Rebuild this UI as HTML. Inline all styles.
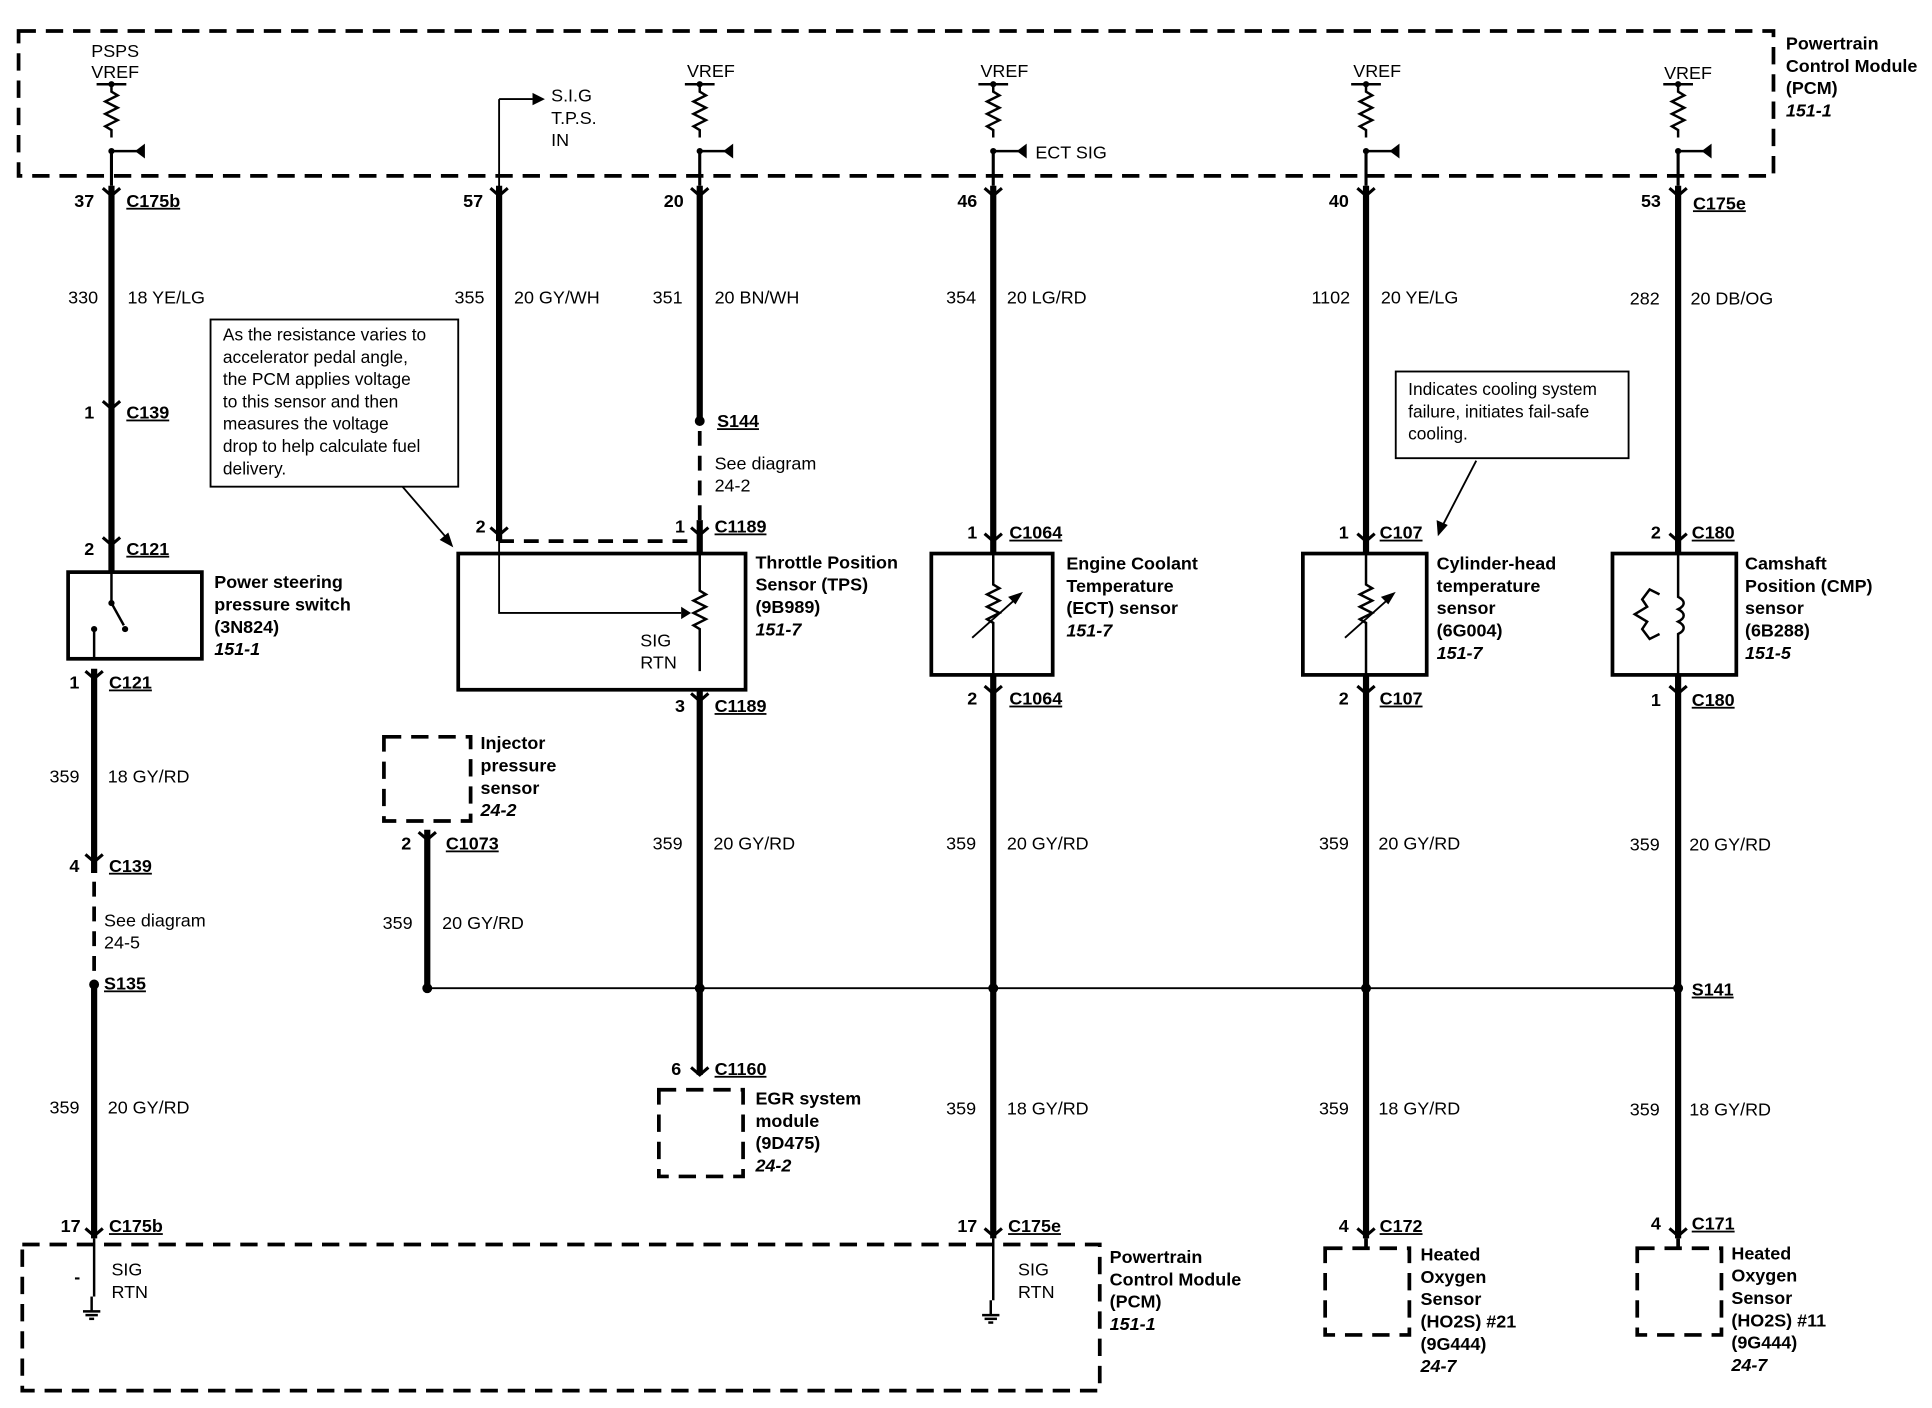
<!DOCTYPE html>
<html><head><meta charset="utf-8"><style>
html,body{margin:0;padding:0;background:#fff;}
svg{display:block;}
text{font-family:"Liberation Sans",Arial,sans-serif;font-size:14.5px;fill:#000;}
.b{font-weight:bold;}
.i{font-weight:bold;font-style:italic;}
.u{font-weight:bold;text-decoration:underline;}
</style></head><body>
<svg width="1932" height="1408" viewBox="0 0 1560 1137" preserveAspectRatio="none" xmlns="http://www.w3.org/2000/svg">
<defs>
<g id="res"><path d="M0,68 v6 l5,3 l-10,5 l10,5 l-10,5 l10,5 l-10,5 l5,3 v6" fill="none" stroke="#000" stroke-width="2"/><line x1="-12" y1="68" x2="12" y2="68" stroke="#000" stroke-width="2"/><circle cx="0" cy="68" r="2.5"/><line x1="0" y1="122" x2="22" y2="122" stroke="#000" stroke-width="2"/><path d="M27,116 L19,122 L27,128 Z"/><circle cx="0" cy="122" r="2.5"/><line x1="0" y1="122" x2="0" y2="150" stroke="#000" stroke-width="2.5"/></g>
<path id="chev" d="M-7,-6 L0,0 L7,-6" fill="none" stroke="#000" stroke-width="2.5"/>
<g id="gnd"><line x1="0" y1="0" x2="0" y2="12" stroke="#000" stroke-width="2"/><line x1="-7" y1="12" x2="7" y2="12" stroke="#000" stroke-width="2"/><line x1="-5" y1="15" x2="5" y2="15" stroke="#000" stroke-width="2"/><line x1="-2" y1="18" x2="2" y2="18" stroke="#000" stroke-width="2"/></g>
</defs>
<rect width="1560" height="1137" fill="#fff"/>
<g fill="none" stroke="#000" stroke-width="3" stroke-dasharray="14,8">
<rect x="15" y="25" width="1417" height="117"/>
<rect x="18" y="1005" width="870" height="118"/>
<rect x="310" y="595" width="70" height="68"/>
<rect x="532" y="880" width="68" height="70"/>
<rect x="1070" y="1008" width="68" height="70"/>
<rect x="1322" y="1008" width="68" height="70"/>
</g>
<text x="1442" y="40" class="b">Powertrain</text><text x="1442" y="58" class="b">Control Module</text><text x="1442" y="76" class="b">(PCM)</text><text x="1442" y="94" class="i">151-1</text>
<!-- resistors -->
<use href="#res" x="90"/><use href="#res" x="565"/><use href="#res" x="802"/><use href="#res" x="1103"/><use href="#res" x="1355"/>
<text x="93" y="46" text-anchor="middle">PSPS</text><text x="93" y="63" text-anchor="middle">VREF</text>
<text x="574" y="62" text-anchor="middle">VREF</text><text x="811" y="62" text-anchor="middle">VREF</text><text x="1112" y="62" text-anchor="middle">VREF</text><text x="1363" y="64" text-anchor="middle">VREF</text>
<text x="836" y="128">ECT SIG</text>
<!-- thick wires -->
<g stroke="#000" stroke-width="5">
<line x1="90" y1="150" x2="90" y2="462"/><line x1="76" y1="540" x2="76" y2="705"/><line x1="76" y1="795" x2="76" y2="1000"/>
<line x1="403" y1="150" x2="403" y2="437"/>
<line x1="565" y1="150" x2="565" y2="340"/><line x1="565" y1="420" x2="565" y2="447"/><line x1="565" y1="557" x2="565" y2="868"/>
<line x1="345" y1="670" x2="345" y2="798"/>
<line x1="802" y1="150" x2="802" y2="447"/><line x1="802" y1="545" x2="802" y2="1000"/>
<line x1="1103" y1="150" x2="1103" y2="447"/><line x1="1103" y1="545" x2="1103" y2="1000"/>
<line x1="1355" y1="150" x2="1355" y2="447"/><line x1="1355" y1="545" x2="1355" y2="1000"/>
</g>
<g stroke="#000" stroke-width="3" stroke-dasharray="12,8">
<line x1="76" y1="712" x2="76" y2="790"/><line x1="565" y1="348" x2="565" y2="420"/><line x1="403" y1="437" x2="565" y2="437"/>
</g>
<line x1="345" y1="798" x2="1355" y2="798" stroke="#000" stroke-width="1.5"/>
<g><circle cx="76" cy="795" r="4"/><circle cx="565" cy="340" r="4"/><circle cx="345" cy="798" r="4"/><circle cx="565" cy="798" r="4"/><circle cx="802" cy="798" r="4"/><circle cx="1103" cy="798" r="4"/><circle cx="1355" cy="798" r="4"/></g>
<!-- chevrons -->
<g>
<use href="#chev" x="90" y="158"/><use href="#chev" x="403" y="158"/><use href="#chev" x="565" y="158"/><use href="#chev" x="802" y="158"/><use href="#chev" x="1103" y="158"/><use href="#chev" x="1355" y="158"/>
<use href="#chev" x="90" y="330"/><use href="#chev" x="90" y="440"/><use href="#chev" x="76" y="548"/><use href="#chev" x="76" y="696"/>
<use href="#chev" x="403" y="432"/><use href="#chev" x="565" y="432"/><use href="#chev" x="565" y="566"/><use href="#chev" x="565" y="868"/><use href="#chev" x="345" y="678"/>
<use href="#chev" x="802" y="437"/><use href="#chev" x="802" y="560"/><use href="#chev" x="1103" y="437"/><use href="#chev" x="1103" y="560"/><use href="#chev" x="1355" y="437"/><use href="#chev" x="1355" y="560"/>
<use href="#chev" x="76" y="998"/><use href="#chev" x="802" y="998"/><use href="#chev" x="1103" y="998"/><use href="#chev" x="1355" y="998"/>
</g>
<!-- pin labels -->
<g class="b">
<text x="60" y="167" class="b">37</text><text x="102" y="167" class="u">C175b</text>
<text x="374" y="167" class="b">57</text><text x="536" y="167" class="b">20</text>
<text x="773" y="167" class="b">46</text><text x="1073" y="167" class="b">40</text><text x="1325" y="167" class="b">53</text><text x="1367" y="169" class="u">C175e</text>
<text x="68" y="338" class="b">1</text><text x="102" y="338" class="u">C139</text>
<text x="68" y="448" class="b">2</text><text x="102" y="448" class="u">C121</text>
<text x="56" y="556" class="b">1</text><text x="88" y="556" class="u">C121</text>
<text x="56" y="704" class="b">4</text><text x="88" y="704" class="u">C139</text>
<text x="84" y="799" class="u">S135</text>
<text x="49" y="995" class="b">17</text><text x="88" y="995" class="u">C175b</text>
<text x="579" y="345" class="u">S144</text>
<text x="384" y="430" class="b">2</text><text x="545" y="430" class="b">1</text><text x="577" y="430" class="u">C1189</text>
<text x="545" y="575" class="b">3</text><text x="577" y="575" class="u">C1189</text>
<text x="324" y="686" class="b">2</text><text x="360" y="686" class="u">C1073</text>
<text x="542" y="868" class="b">6</text><text x="577" y="868" class="u">C1160</text>
<text x="781" y="435" class="b">1</text><text x="815" y="435" class="u">C1064</text>
<text x="781" y="569" class="b">2</text><text x="815" y="569" class="u">C1064</text>
<text x="773" y="995" class="b">17</text><text x="814" y="995" class="u">C175e</text>
<text x="1081" y="435" class="b">1</text><text x="1114" y="435" class="u">C107</text>
<text x="1081" y="569" class="b">2</text><text x="1114" y="569" class="u">C107</text>
<text x="1081" y="995" class="b">4</text><text x="1114" y="995" class="u">C172</text>
<text x="1333" y="435" class="b">2</text><text x="1366" y="435" class="u">C180</text>
<text x="1333" y="570" class="b">1</text><text x="1366" y="570" class="u">C180</text>
<text x="1333" y="993" class="b">4</text><text x="1366" y="993" class="u">C171</text>
<text x="1366" y="804" class="u">S141</text>
</g>
<!-- wire labels -->
<text x="55" y="245">330</text><text x="103" y="245">18  YE/LG</text>
<text x="367" y="245">355</text><text x="415" y="245">20  GY/WH</text>
<text x="527" y="245">351</text><text x="577" y="245">20  BN/WH</text>
<text x="764" y="245">354</text><text x="813" y="245">20  LG/RD</text>
<text x="1059" y="245">1102</text><text x="1115" y="245">20  YE/LG</text>
<text x="1316" y="246">282</text><text x="1365" y="246">20  DB/OG</text>
<text x="40" y="632">359</text><text x="87" y="632">18  GY/RD</text>
<text x="84" y="748">See diagram</text><text x="84" y="766">24-5</text>
<text x="40" y="899">359</text><text x="87" y="899">20  GY/RD</text>
<text x="577" y="379">See diagram</text><text x="577" y="397">24-2</text>
<text x="527" y="686">359</text><text x="576" y="686">20  GY/RD</text>
<text x="309" y="750">359</text><text x="357" y="750">20  GY/RD</text>
<text x="764" y="686">359</text><text x="813" y="686">20  GY/RD</text>
<text x="764" y="900">359</text><text x="813" y="900">18  GY/RD</text>
<text x="1065" y="686">359</text><text x="1113" y="686">20  GY/RD</text>
<text x="1065" y="900">359</text><text x="1113" y="900">18  GY/RD</text>
<text x="1316" y="687">359</text><text x="1364" y="687">20  GY/RD</text>
<text x="1316" y="901">359</text><text x="1364" y="901">18  GY/RD</text>
<!-- PSPS switch -->
<rect x="55" y="462" width="108" height="70" fill="none" stroke="#000" stroke-width="3"/>
<line x1="90" y1="462" x2="90" y2="485" stroke="#000" stroke-width="2"/>
<circle cx="90" cy="487" r="2.5"/><line x1="90" y1="487" x2="100" y2="505" stroke="#000" stroke-width="2"/><circle cx="101" cy="508" r="2.5"/>
<circle cx="76" cy="508" r="2.5"/><line x1="76" y1="508" x2="76" y2="532" stroke="#000" stroke-width="2"/>
<text x="173" y="475" class="b">Power steering</text><text x="173" y="493" class="b">pressure switch</text><text x="173" y="511" class="b">(3N824)</text><text x="173" y="529" class="i">151-1</text>
<!-- TPS -->
<rect x="370" y="447" width="232" height="110" fill="none" stroke="#000" stroke-width="3"/>
<path d="M403,80 V495 H550" fill="none" stroke="#000" stroke-width="1.5"/><path d="M550,490 L558,495 L550,500 Z"/>
<path d="M403,80 H430" fill="none" stroke="#000" stroke-width="1.5"/><path d="M430,75 L440,80 L430,85 Z"/>
<text x="445" y="82">S.I.G</text><text x="445" y="100">T.P.S.</text><text x="445" y="118">IN</text>
<path d="M565,447 v30 l5,3 l-10,5 l10,5 l-10,5 l10,5 l-10,5 l5,3 v34" fill="none" stroke="#000" stroke-width="2"/>
<text x="517" y="522">SIG</text><text x="517" y="540">RTN</text>
<text x="610" y="459" class="b">Throttle Position</text><text x="610" y="477" class="b">Sensor (TPS)</text><text x="610" y="495" class="b">(9B989)</text><text x="610" y="513" class="i">151-7</text>
<!-- callout 1 -->
<rect x="170" y="258" width="200" height="135" fill="none" stroke="#000" stroke-width="1.5"/>
<text x="180" y="275" style="font-size:14px">As the resistance varies to</text><text x="180" y="293" style="font-size:14px">accelerator pedal angle,</text><text x="180" y="311" style="font-size:14px">the PCM applies voltage</text><text x="180" y="329" style="font-size:14px">to this sensor and then</text><text x="180" y="347" style="font-size:14px">measures the voltage</text><text x="180" y="365" style="font-size:14px">drop to help calculate fuel</text><text x="180" y="383" style="font-size:14px">delivery.</text>
<line x1="325" y1="393" x2="362" y2="436" stroke="#000" stroke-width="1.5"/><path d="M366,442 L355,436 L362,430 Z"/>
<text x="388" y="605" class="b">Injector</text><text x="388" y="623" class="b">pressure</text><text x="388" y="641" class="b">sensor</text><text x="388" y="659" class="i">24-2</text>
<text x="610" y="892" class="b">EGR system</text><text x="610" y="910" class="b">module</text><text x="610" y="928" class="b">(9D475)</text><text x="610" y="946" class="i">24-2</text>
<!-- ECT -->
<rect x="752" y="447" width="98" height="98" fill="none" stroke="#000" stroke-width="3"/>
<path d="M802,447 v25 l5,3 l-10,5 l10,5 l-10,5 l10,5 l-10,5 l5,3 v42" fill="none" stroke="#000" stroke-width="2"/>
<line x1="785" y1="515" x2="822" y2="482" stroke="#000" stroke-width="1.5"/><path d="M826,478 L814,482 L820,488 Z"/>
<text x="861" y="460" class="b">Engine Coolant</text><text x="861" y="478" class="b">Temperature</text><text x="861" y="496" class="b">(ECT) sensor</text><text x="861" y="514" class="i">151-7</text>
<!-- CHT -->
<rect x="1052" y="447" width="100" height="98" fill="none" stroke="#000" stroke-width="3"/>
<path d="M1103,447 v25 l5,3 l-10,5 l10,5 l-10,5 l10,5 l-10,5 l5,3 v42" fill="none" stroke="#000" stroke-width="2"/>
<line x1="1086" y1="515" x2="1123" y2="482" stroke="#000" stroke-width="1.5"/><path d="M1127,478 L1115,482 L1121,488 Z"/>
<text x="1160" y="460" class="b">Cylinder-head</text><text x="1160" y="478" class="b">temperature</text><text x="1160" y="496" class="b">sensor</text><text x="1160" y="514" class="b">(6G004)</text><text x="1160" y="532" class="i">151-7</text>
<rect x="1127" y="300" width="188" height="70" fill="none" stroke="#000" stroke-width="1.5"/>
<text x="1137" y="319" style="font-size:14px">Indicates cooling system</text><text x="1137" y="337" style="font-size:14px">failure, initiates fail-safe</text><text x="1137" y="355" style="font-size:14px">cooling.</text>
<line x1="1192" y1="372" x2="1164" y2="426" stroke="#000" stroke-width="1.5"/><path d="M1161,433 L1160,420 L1169,424 Z"/>
<!-- CMP -->
<rect x="1302" y="447" width="100" height="98" fill="none" stroke="#000" stroke-width="3"/>
<path d="M1355,447 v35 c6,3 6,7 0,10 c6,3 6,7 0,10 c6,3 6,7 0,10 v33" fill="none" stroke="#000" stroke-width="2"/>
<path d="M1340,480 l-8,-4 l-6,8 l4,6 l-10,6 l10,6 l-4,6 l6,8 l8,-4" fill="none" stroke="#000" stroke-width="2"/>
<text x="1409" y="460" class="b">Camshaft</text><text x="1409" y="478" class="b">Position (CMP)</text><text x="1409" y="496" class="b">sensor</text><text x="1409" y="514" class="b">(6B288)</text><text x="1409" y="532" class="i">151-5</text>
<!-- bottom -->
<line x1="76" y1="1000" x2="76" y2="1047" stroke="#000" stroke-width="2"/><use href="#gnd" x="74" y="1047"/>
<text x="60" y="1036" class="b">-</text><text x="90" y="1030">SIG</text><text x="90" y="1048">RTN</text>
<line x1="802" y1="1000" x2="802" y2="1050" stroke="#000" stroke-width="2"/><use href="#gnd" x="800" y="1050"/>
<text x="822" y="1030">SIG</text><text x="822" y="1048">RTN</text>
<text x="896" y="1020" class="b">Powertrain</text><text x="896" y="1038" class="b">Control Module</text><text x="896" y="1056" class="b">(PCM)</text><text x="896" y="1074" class="i">151-1</text>
<line x1="1103" y1="1000" x2="1103" y2="1008" stroke="#000" stroke-width="3"/>
<line x1="1355" y1="1000" x2="1355" y2="1008" stroke="#000" stroke-width="3"/>
<text x="1147" y="1018" class="b">Heated</text><text x="1147" y="1036" class="b">Oxygen</text><text x="1147" y="1054" class="b">Sensor</text><text x="1147" y="1072" class="b">(HO2S) #21</text><text x="1147" y="1090" class="b">(9G444)</text><text x="1147" y="1108" class="i">24-7</text>
<text x="1398" y="1017" class="b">Heated</text><text x="1398" y="1035" class="b">Oxygen</text><text x="1398" y="1053" class="b">Sensor</text><text x="1398" y="1071" class="b">(HO2S) #11</text><text x="1398" y="1089" class="b">(9G444)</text><text x="1398" y="1107" class="i">24-7</text>
</svg>
</body></html>
